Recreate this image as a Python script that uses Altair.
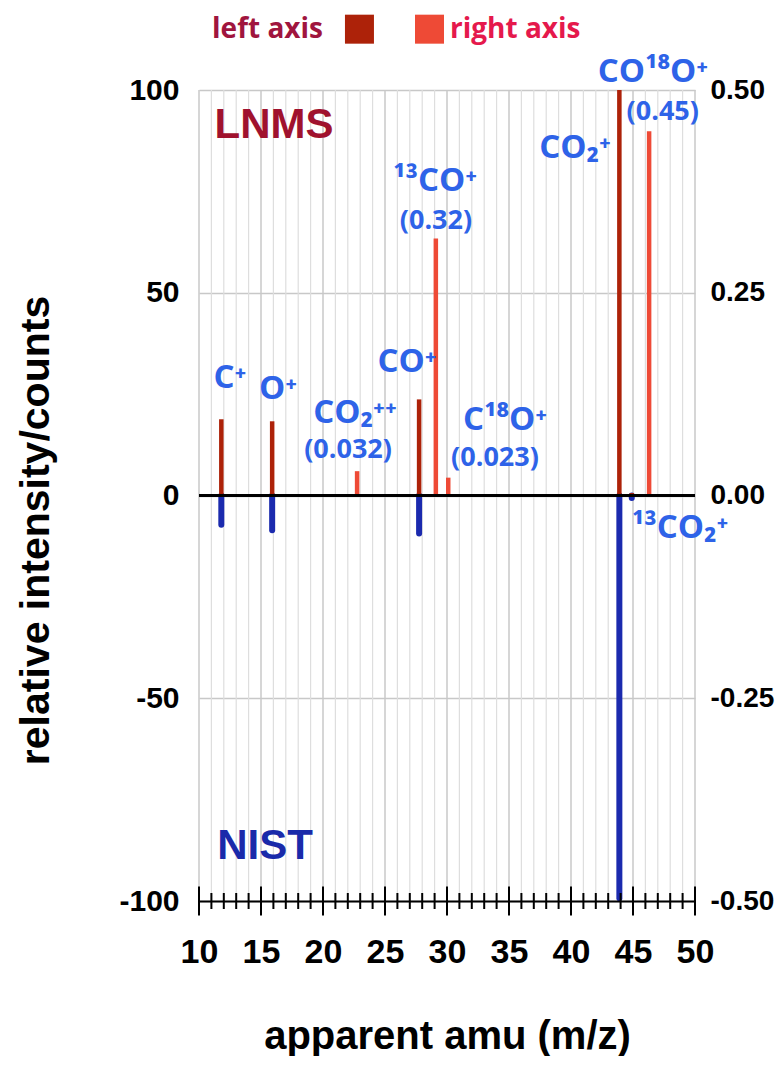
import altair as alt
import pandas as pd

# ---- data ----
left_amu = [11.8, 15.9, 27.75, 43.9, 44.9]
left_val = [18.8, 18.3, 23.7, 100.0, 0.6]
right_amu = [22.75, 29.1, 30.1, 46.3]
right_val = [0.030, 0.317, 0.022, 0.449]
nist_amu = [11.8, 15.9, 27.75, 43.9, 44.9]
nist_val = [-7.2, -8.6, -9.4, -99.3, -0.6]

x_major = list(range(10, 51, 5))
x_minor = [v for v in range(10, 51) if v % 5]
y_left_ticks = [-100, -50, 0, 50, 100]
y_right_ticks = [-0.5, -0.25, 0.0, 0.25, 0.5]

ion_text = ["C⁺", "O⁺", "CO₂⁺⁺", "CO⁺", "¹³CO⁺", "C¹⁸O⁺", "CO₂⁺", "CO¹⁸O⁺", "¹³CO₂⁺"]
ion_x = [12.5, 16.37, 22.58, 26.77, 29.03, 34.68, 40.32, 46.6, 48.8]
ion_y = [26.5, 23.8, 17.9, 30.5, 75.0, 16.2, 83.2, 102.0, -10.5]
frac_text = ["(0.032)", "(0.32)", "(0.023)", "(0.45)"]
frac_x = [22.02, 29.11, 33.87, 47.4]
frac_y = [9.2, 65.8, 7.3, 92.7]
panel_text = ["LNMS", "NIST"]
panel_x = [16.05, 15.32]
panel_y = [88.2, -89.6]
panel_color = ["#a0122e", "#1a2aaa"]
legend_text = ["left axis", "right axis"]
legend_text_x = [20.0, 30.24]
legend_text_y = [112.8, 112.8]
legend_text_color = ["#a0153e", "#e5194c"]
legend_sq_x = [22.94, 28.59]
legend_sq_y = [115.0, 115.0]
legend_sq_color = ["#ad2209", "#ee4a36"]

DARK_RED = "#ad2209"
LIGHT_RED = "#ee4a36"
NIST_BLUE = "#1b2aae"
LABEL_BLUE = "#2e63e8"
AXFONT = "Liberation Sans"
LBFONT = "Open Sans"

df_left = pd.DataFrame({"amu": left_amu, "v": left_val})
df_right = pd.DataFrame({"amu": right_amu, "v": right_val})
df_nist = pd.DataFrame({"amu": nist_amu, "v": nist_val})
df_major = pd.DataFrame({"t": x_major})
df_minor = pd.DataFrame({"t": x_minor})
df_ion = pd.DataFrame({"text": ion_text, "x": ion_x, "y": ion_y})
df_frac = pd.DataFrame({"text": frac_text, "x": frac_x, "y": frac_y})
df_panel = pd.DataFrame({"text": panel_text, "x": panel_x, "y": panel_y, "c": panel_color})
df_leg_l = pd.DataFrame({"text": legend_text[:1], "x": legend_text_x[:1], "y": legend_text_y[:1], "c": legend_text_color[:1]})
df_leg_r = pd.DataFrame({"text": legend_text[1:], "x": legend_text_x[1:], "y": legend_text_y[1:], "c": legend_text_color[1:]})
df_sq = pd.DataFrame({"x": legend_sq_x, "y": legend_sq_y, "c": legend_sq_color})

xs = alt.Scale(domain=[10, 50], nice=False, zero=False)
ysL = alt.Scale(domain=[-100, 100], nice=False, zero=False)
ysR = alt.Scale(domain=[-0.5, 0.5], nice=False, zero=False)

minus_fix = "replace(format(datum.value, '{f}'), '\u2212', '-')"

xaxis = alt.Axis(
    values=x_major, grid=False, ticks=False, domain=True, domainColor="black",
    domainWidth=2, labelFont=AXFONT, labelFontWeight="bold", labelFontSize=34,
    labelColor="black", labelPadding=34, labelFlush=False, labelOverlap=False,
    title="apparent amu (m/z)",
    titleFont=AXFONT, titleFontSize=40, titleFontWeight="bold", titleColor="black",
    titleY=147, titleBaseline="alphabetic", zindex=1,
)
yaxisL = alt.Axis(
    values=y_left_ticks, grid=True, gridColor="#c8c8c8", gridWidth=1.5,
    ticks=False, domain=False, labelFont=AXFONT, labelFontWeight="bold",
    labelFontSize=30, labelColor="black", labelPadding=20,
    labelExpr=minus_fix.format(f="d"),
    title="relative intensity/counts", titleFont=AXFONT, titleFontSize=41,
    titleFontWeight="bold", titleColor="black", titleX=-163, titleY=440,
    titleAngle=270, titleAlign="center", titleBaseline="middle",
)
yaxisR = alt.Axis(
    orient="right", values=y_right_ticks, grid=False, ticks=False, domain=False,
    labelFont=AXFONT, labelFontWeight="bold", labelFontSize=28,
    labelColor="black", labelPadding=15, labelExpr=minus_fix.format(f=".2f"),
    title=None,
)

X = lambda f: alt.X(f, scale=xs, axis=xaxis)

grid_minor = alt.Chart(df_minor).mark_rule(color="#dedede", strokeWidth=1.2).encode(x=X("t:Q"))
grid_major = alt.Chart(df_major).mark_rule(color="#c8c8c8", strokeWidth=1.5).encode(x=X("t:Q"))
bars_left = alt.Chart(df_left).mark_rule(color=DARK_RED, strokeWidth=4.5).encode(
    x=X("amu:Q"), y=alt.Y("v:Q", scale=ysL, axis=yaxisL), y2=alt.Y2Datum(0))
bars_nist = alt.Chart(df_nist).mark_rule(color=NIST_BLUE, strokeWidth=6, strokeCap="round").encode(
    x=X("amu:Q"), y=alt.Y("v:Q", scale=ysL, axis=yaxisL), y2=alt.Y2Datum(0))
base = alt.layer(grid_minor, grid_major, bars_nist, bars_left)

bars_right = alt.Chart(df_right).mark_rule(color=LIGHT_RED, strokeWidth=4.5).encode(
    x=X("amu:Q"), y=alt.Y("v:Q", scale=ysR, axis=yaxisR), y2=alt.Y2Datum(0))

YL = lambda f: alt.Y(f, scale=ysL, axis=None)
zero_line = alt.Chart(df_major).mark_rule(color="black", strokeWidth=2).encode(
    y=alt.YDatum(0, scale=ysL, axis=None))
ticks_major = alt.Chart(df_major).mark_tick(orient="vertical", size=29, thickness=2, color="black", opacity=1).encode(
    x=X("t:Q"), y=alt.YDatum(-100, scale=ysL, axis=None))
ticks_minor = alt.Chart(df_minor).mark_tick(orient="vertical", size=16, thickness=2, color="black", opacity=1).encode(
    x=X("t:Q"), y=alt.YDatum(-100, scale=ysL, axis=None))
ion_lbl = alt.Chart(df_ion).mark_text(font=LBFONT, fontWeight="bold", fontSize=33, color=LABEL_BLUE,
                                      align="center", baseline="alphabetic").encode(
    x=X("x:Q"), y=YL("y:Q"), text="text:N")
frac_lbl = alt.Chart(df_frac).mark_text(font=LBFONT, fontWeight="bold", fontSize=27, color=LABEL_BLUE,
                                        align="center", baseline="alphabetic").encode(
    x=X("x:Q"), y=YL("y:Q"), text="text:N")
panel_lbl = alt.Chart(df_panel).mark_text(font=AXFONT, fontWeight="bold", fontSize=42,
                                          align="center", baseline="alphabetic").encode(
    x=X("x:Q"), y=YL("y:Q"), text="text:N", color=alt.Color("c:N", scale=None))
leg_l = alt.Chart(df_leg_l).mark_text(font=LBFONT, fontWeight="bold", fontSize=28,
                                      align="right", baseline="alphabetic").encode(
    x=X("x:Q"), y=YL("y:Q"), text="text:N", color=alt.Color("c:N", scale=None))
leg_r = alt.Chart(df_leg_r).mark_text(font=LBFONT, fontWeight="bold", fontSize=28,
                                      align="left", baseline="alphabetic").encode(
    x=X("x:Q"), y=YL("y:Q"), text="text:N", color=alt.Color("c:N", scale=None))
leg_sq = alt.Chart(df_sq).mark_square(size=841, opacity=1).encode(
    x=X("x:Q"), y=YL("y:Q"), color=alt.Color("c:N", scale=None))
overlay = alt.layer(zero_line, ticks_minor, ticks_major, ion_lbl, frac_lbl, panel_lbl, leg_l, leg_r, leg_sq)

chart = alt.layer(base, bars_right, overlay).resolve_scale(y="independent").properties(
    width=496, height=811,
    autosize=alt.AutoSizeParams(type="none"),
    padding={"left": 191, "top": 82, "right": 80, "bottom": 155},
).configure_view(stroke=None)

chart.save("out.html", embed_options={"renderer": "svg", "actions": False})
